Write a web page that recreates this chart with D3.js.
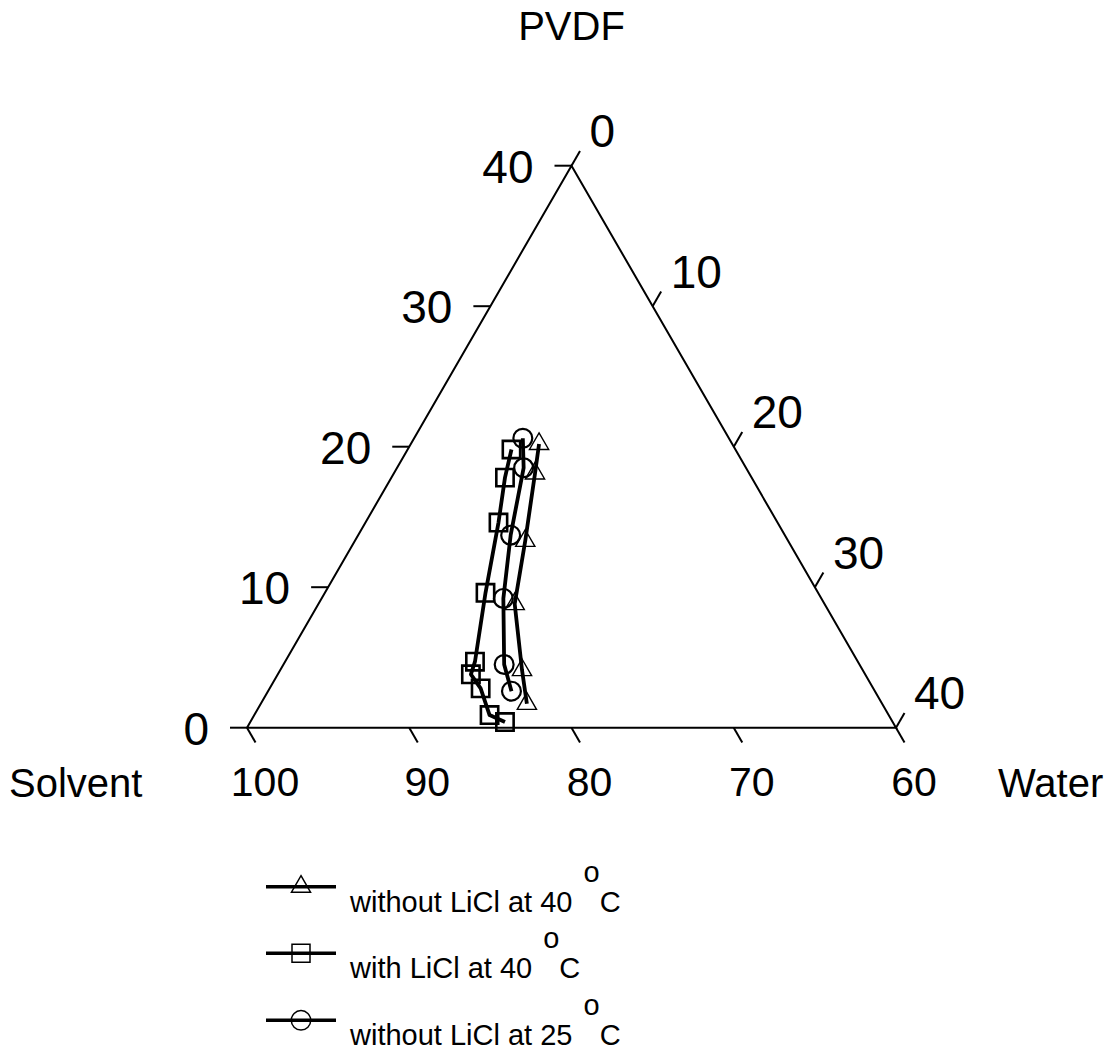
<!DOCTYPE html>
<html>
<head>
<meta charset="utf-8">
<script src="https://cdn.jsdelivr.net/npm/d3@7"></script>
<style>
  body { margin: 0; background: #fff; }
  text { font-family: "Liberation Sans", Arial, Helvetica, sans-serif; fill: #000; }
</style>
</head>
<body>
<div id="chart"></div>
<script>
// series: PVDF and water content (wt%), solvent is the rest
const seriesNames = ['without LiCl at 40', 'with LiCl at 40', 'without LiCl at 25'];
const seriesShapes = ['triangle', 'square', 'circle'];

const pvdfTri = [20.2, 18.1, 13.3, 8.8, 4.1, 1.7];
const waterTri = [7.9, 8.7, 10.5, 12.1, 14.9, 16.4];

const pvdfSq = [19.8, 17.8, 14.6, 9.6, 4.7, 3.8, 2.8, 0.9, 0.4];
const waterSq = [6.4, 7.0, 8.2, 9.9, 11.7, 11.9, 13.0, 14.5, 15.7];

const pvdfCirc = [20.6, 18.5, 13.7, 9.2, 4.5, 2.6];
const waterCirc = [6.7, 7.8, 9.4, 11.2, 13.6, 15.0];

const pvdfTicks = [0, 10, 20, 30, 40];
const waterTicks = [0, 10, 20, 30, 40];
const solventTicks = [100, 90, 80, 70, 60];

const width = 1115, height = 1053;
// triangle corners
const A = [247, 727.7], B = [896, 727.7], C = [571.5, 165.7];
const tickLen = 17;

const pScale = d3.scaleLinear().domain([0, 40]).range([0, 1]);
const wScale = d3.scaleLinear().domain([0, 40]).range([0, 1]);
const sScale = d3.scaleLinear().domain([100, 60]).range([0, 1]);

const xy = (p, w) => {
    const fp = pScale(p), fw = wScale(w);
    return [A[0] + (B[0] - A[0]) * fw + (C[0] - A[0]) * fp,
            A[1] + (C[1] - A[1]) * fp];
};

const series = [
    {name: seriesNames[0], shape: seriesShapes[0], pts: pvdfTri.map((p, i) => [p, waterTri[i]])},
    {name: seriesNames[1], shape: seriesShapes[1], pts: pvdfSq.map((p, i) => [p, waterSq[i]])},
    {name: seriesNames[2], shape: seriesShapes[2], pts: pvdfCirc.map((p, i) => [p, waterCirc[i]])}
];

const symType = {triangle: d3.symbolTriangle, square: d3.symbolSquare, circle: d3.symbolCircle};
const symSize = {triangle: 160, square: 300, circle: 280};
const symStroke = {triangle: 1.4, square: 2.6, circle: 2.2};
const legSize = {triangle: 157, square: 324, circle: 298};

const svg = d3.select('#chart').append('svg')
    .attr('width', width).attr('height', height);

// frame
svg.append('path')
    .attr('d', d3.line()([A, B, C, A]))
    .attr('fill', 'none').attr('stroke', '#000').attr('stroke-width', 2)
    .attr('stroke-linejoin', 'miter');

const g_ticks = svg.append('g').attr('stroke', '#000').attr('stroke-width', 2);
const g_lab = svg.append('g').style('font-size', '40px');

// PVDF on left edge
pvdfTicks.forEach(t => {
    const [x, y] = xy(t, 0);
    g_ticks.append('line').attr('x1', x).attr('y1', y).attr('x2', x - tickLen).attr('y2', y);
    g_lab.append('text').attr('x', x - tickLen - 21).attr('y', y + 17)
        .attr('text-anchor', 'end').style('font-size', '46px').text(t);
});

// water on right edge
waterTicks.forEach(t => {
    const [x, y] = xy(40 - t, t);
    const ex = x + tickLen * 0.5, ey = y - tickLen * 0.866;
    g_ticks.append('line').attr('x1', x).attr('y1', y).attr('x2', ex).attr('y2', ey);
    g_lab.append('text').attr('x', ex + 9.5).attr('y', ey - 3.5)
        .style('font-size', '46px').text(t);
});

// solvent on bottom edge
solventTicks.forEach(t => {
    const x = A[0] + (B[0] - A[0]) * sScale(t), y = A[1];
    const ex = x + tickLen * 0.5, ey = y + tickLen * 0.866;
    g_ticks.append('line').attr('x1', x).attr('y1', y).attr('x2', ex).attr('y2', ey);
    g_lab.append('text').attr('x', ex + 9.5).attr('y', 796)
        .attr('text-anchor', 'middle').style('font-size', '41px').text(t);
});

// axis titles
g_lab.append('text').attr('x', C[0]).attr('y', 40).attr('text-anchor', 'middle').text('PVDF');
g_lab.append('text').attr('x', 9).attr('y', 797).text('Solvent');
g_lab.append('text').attr('x', 998).attr('y', 797).text('Water');

// data lines + markers
const g_data = svg.append('g');
series.forEach(s => {
    const coords = s.pts.map(d => xy(d[0], d[1]));
    g_data.append('path')
        .attr('d', d3.line()(coords))
        .attr('fill', 'none').attr('stroke', '#000').attr('stroke-width', 3.8)
        .attr('stroke-linejoin', 'round');
    g_data.selectAll(null).data(coords).enter().append('path')
        .attr('transform', d => `translate(${d[0]},${d[1]})`)
        .attr('d', d3.symbol().type(symType[s.shape]).size(symSize[s.shape]))
        .attr('fill', 'none').attr('stroke', '#000')
        .attr('stroke-width', symStroke[s.shape]);
});

// legend
const legY = [886.7, 953.3, 1020.3];
const leg = svg.append('g');
series.forEach((s, i) => {
    const y = legY[i];
    leg.append('line').attr('x1', 266).attr('x2', 336).attr('y1', y).attr('y2', y)
        .attr('stroke', '#000').attr('stroke-width', 3.4);
    leg.append('path')
        .attr('transform', `translate(301,${y})`)
        .attr('d', d3.symbol().type(symType[s.shape]).size(legSize[s.shape]))
        .attr('fill', 'none').attr('stroke', '#000').attr('stroke-width', 1.5);
    const t = leg.append('text').attr('x', 350).attr('y', y + 25).style('font-size', '29px');
    t.append('tspan').text(s.name + ' ');
    t.append('tspan').attr('dx', 3).attr('dy', -30).text('o');
    t.append('tspan').attr('dy', 30).text('C');
});
</script>
</body>
</html>
